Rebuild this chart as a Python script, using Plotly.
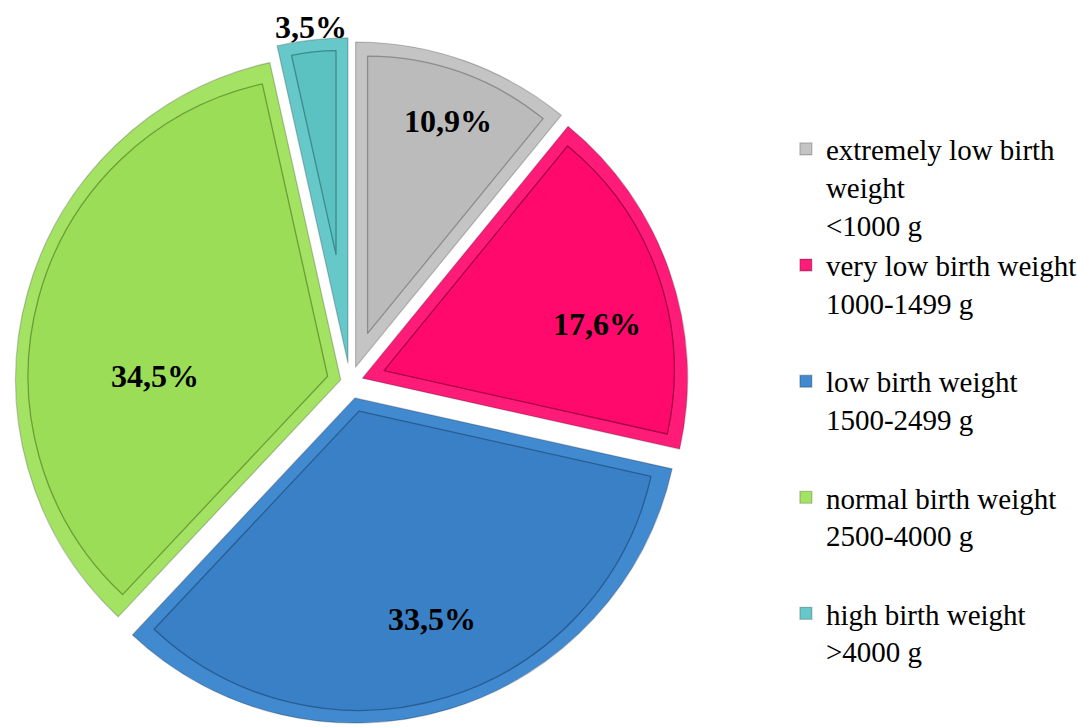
import math
import plotly.graph_objects as go

# Birth weight categories and their share of births (%)
categories = [
    "extremely low birth<br>weight<br>&lt;1000 g",
    "very low birth weight<br>1000-1499 g<br> ",
    "low birth weight<br>1500-2499 g<br> ",
    "normal birth weight<br>2500-4000 g<br> ",
    "high birth weight<br>&gt;4000 g<br> ",
]
shares = [10.9, 17.6, 33.5, 34.5, 3.5]
share_labels = ["10,9%", "17,6%", "33,5%", "34,5%", "3,5%"]

# slice face colours, the lighter bevel rim, and the dark inner edge line
face_colors = ["#BBBBBB", "#FF0A6C", "#3A80C6", "#9BDD56", "#5CC1C1"]
rim_colors = ["#C4C4C4", "#FF1C78", "#428AD0", "#A3E262", "#66C8C8"]
edge_colors = ["#8C8C8C", "#A8004A", "#285D93", "#6C9E38", "#3C8C8C"]
pulls = [0.05, 0.04, 0.05, 0.03, 0.06]
# label placement: radial fraction of the radius and angular nudge (deg) from the slice middle
label_radius = [0.81, 0.74, 0.72, 0.57, 1.04]
label_nudge = [1, 6, -2, -14, 0]

W, H = 1084, 727
dom_x = [0.005, 0.641]
dom_y = [0.0, 0.948]
BEVEL = 12  # inset of the bevel edge, px

# pie geometry, following plotly's own layout of a pie in its domain
cx = W * (dom_x[0] + dom_x[1]) / 2
cy = H * (1 - (dom_y[0] + dom_y[1]) / 2)
r = min(W * (dom_x[1] - dom_x[0]), H * (dom_y[1] - dom_y[0])) / (2 + 2 * max(pulls))

total = sum(shares)
mid_angles, half_angles = [], []
acc = 0.0
for v in shares:
    mid_angles.append(math.radians(360 * (acc + v / 2) / total))
    half_angles.append(math.radians(180 * v / total))
    acc += v

fig = go.Figure()
fig.add_trace(go.Pie(
    labels=categories,
    values=shares,
    textinfo="none",
    sort=False,
    direction="clockwise",
    rotation=0,
    pull=pulls,
    marker=dict(colors=rim_colors, line=dict(color="rgba(0,0,0,0.22)", width=1.2)),
    domain=dict(x=dom_x, y=dom_y),
    hoverinfo="skip",
))

# inner bevel face of each slice: a smaller copy of the slice, inset from its edges
for i, v in enumerate(shares):
    ux, uy = math.sin(mid_angles[i]), -math.cos(mid_angles[i])
    e = BEVEL / math.sin(half_angles[i])
    ax = cx + (pulls[i] * r + e) * ux
    ay = cy + (pulls[i] * r + e) * uy
    r2 = r - BEVEL - e
    cols = ["rgba(0,0,0,0)"] * len(shares)
    lcols = ["rgba(0,0,0,0)"] * len(shares)
    lw = [0] * len(shares)
    cols[i] = face_colors[i]
    lcols[i] = edge_colors[i]
    lw[i] = 1.3
    fig.add_trace(go.Pie(
        labels=categories,
        values=shares,
        textinfo="none",
        sort=False,
        direction="clockwise",
        rotation=0,
        marker=dict(colors=cols, line=dict(color=lcols, width=lw)),
        domain=dict(x=[(ax - r2) / W, (ax + r2) / W], y=[1 - (ay + r2) / H, 1 - (ay - r2) / H]),
        showlegend=False,
        hoverinfo="skip",
    ))

# percentage labels, placed relative to each pulled slice's apex
for i, lab in enumerate(share_labels):
    apx = cx + pulls[i] * r * math.sin(mid_angles[i])
    apy = cy - pulls[i] * r * math.cos(mid_angles[i])
    ang = mid_angles[i] + math.radians(label_nudge[i])
    dist = label_radius[i] * r
    fig.add_annotation(
        x=(apx + dist * math.sin(ang)) / W,
        y=1 - (apy - dist * math.cos(ang)) / H,
        xref="paper", yref="paper",
        xanchor="center", yanchor="middle",
        text=lab,
        showarrow=False,
        font=dict(family="Liberation Serif", size=32, color="black", weight="bold"),
    )

fig.update_layout(
    width=W,
    height=H,
    margin=dict(l=0, r=0, t=0, b=0, autoexpand=False),
    paper_bgcolor="white",
    plot_bgcolor="white",
    showlegend=True,
    legend=dict(
        x=0.725,
        y=0.83,
        xanchor="left",
        yanchor="top",
        valign="top",
        font=dict(family="Liberation Serif", size=29, color="black"),
        bgcolor="rgba(0,0,0,0)",
    ),
)

fig.write_html("out.html")
